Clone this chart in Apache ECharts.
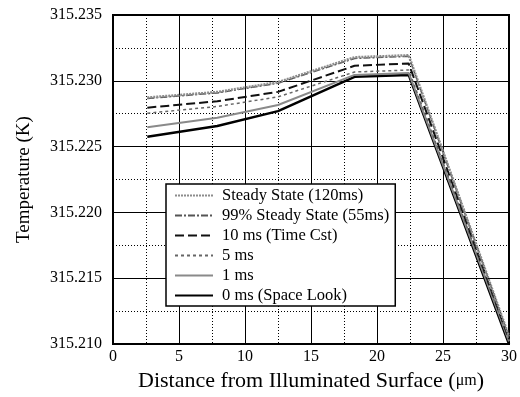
<!DOCTYPE html>
<html><head><meta charset="utf-8">
<script src="https://cdn.jsdelivr.net/npm/echarts@6/dist/echarts.min.js"></script>
<style>html,body{margin:0;padding:0;background:#fff}#c{width:520px;height:397px}</style>
</head><body><div id="c"></div>
<script>
const xs = [2.6, 7.9, 12.5, 18.3, 22.4, 30];
const seriesNames = ['Steady State (120ms)', '99% Steady State (55ms)', '10 ms (Time Cst)', '5 ms', '1 ms', '0 ms (Space Look)'];
const steady = [315.22873, 315.22915, 315.22990, 315.23179, 315.23194, 315.21060];
const steady99 = [315.22866, 315.22908, 315.22982, 315.23170, 315.23186, 315.21055];
const ms10 = [315.22796, 315.22845, 315.22916, 315.23114, 315.23132, 315.21040];
const ms5 = [315.22754, 315.22805, 315.22878, 315.23067, 315.23082, 315.21030];
const ms1 = [315.22647, 315.22720, 315.22816, 315.23045, 315.23060, 315.21020];
const ms0 = [315.22575, 315.22657, 315.22770, 315.23030, 315.23045, 315.21000];
const xTicks = [0, 5, 10, 15, 20, 25, 30];
const yTicks = ['315.210', '315.215', '315.220', '315.225', '315.230', '315.235'];

const font = 'Liberation Serif';
const styles = [
  {color: '#8c8c8c', width: 2.5, type: [2, 1]},
  {color: '#555', width: 1.5, type: [7, 2, 2, 2]},
  {color: '#111', width: 2, type: [9, 4]},
  {color: '#666', width: 1.5, type: [3, 3]},
  {color: '#8a8a8a', width: 2, type: 'solid'},
  {color: '#000', width: 2.5, type: 'solid'}
];
const datasets = [steady, steady99, ms10, ms5, ms1, ms0];
const series = datasets.map((d, i) => ({
  name: seriesNames[i], type: 'line', symbol: 'none', silent: true,
  data: xs.map((x, j) => [x, d[j]]),
  lineStyle: styles[i], itemStyle: {color: styles[i].color}, z: 10 - i
}));

const chart = echarts.init(document.getElementById('c'), null, {renderer: 'canvas'});
chart.setOption({
  animation: false,
  backgroundColor: '#fff',
  grid: {left: 113, right: 5, top: 15, bottom: 47, show: true, borderColor: '#000', borderWidth: 2, backgroundColor: 'transparent'},
  legend: {
    orient: 'vertical', left: 166, top: 184, itemWidth: 38, itemHeight: 12, itemGap: 3,
    backgroundColor: '#fff', borderColor: '#000', borderWidth: 1.5, padding: [3, 6, 2, 8],
    itemStyle: {opacity: 0},
    textStyle: {fontFamily: font, fontSize: 16.5, color: '#000', padding: [0, 0, 0, 4]},
    data: seriesNames, selectedMode: false
  },
  xAxis: {
    type: 'value', min: xTicks[0], max: xTicks[xTicks.length - 1], interval: 5,
    axisLine: {show: true, lineStyle: {color: '#000', width: 2}},
    axisTick: {show: false},
    axisLabel: {color: '#000', fontFamily: font, fontSize: 16, margin: 5},
    splitLine: {show: true, lineStyle: {color: '#000', width: 1}},
    minorTick: {show: false, splitNumber: 2},
    minorSplitLine: {show: true, lineStyle: {color: '#000', width: 1, type: [1, 2]}},
    name: '{a|Distance from Illuminated Surface (}{b|μm}{a|)}',
    nameLocation: 'middle', nameGap: 24,
    nameTextStyle: {rich: {a: {fontFamily: font, fontSize: 22, color: '#000'}, b: {fontFamily: font, fontSize: 16, color: '#000'}}}
  },
  yAxis: {
    type: 'value', min: 315.210, max: 315.235, interval: 0.005,
    axisLine: {show: true, lineStyle: {color: '#000', width: 2}},
    axisTick: {show: false},
    axisLabel: {color: '#000', fontFamily: font, fontSize: 16, margin: 11,
      formatter: v => yTicks[Math.round((v - 315.210) / 0.005)] || v.toFixed(3)},
    splitLine: {show: true, lineStyle: {color: '#000', width: 1}},
    minorTick: {show: false, splitNumber: 2},
    minorSplitLine: {show: true, lineStyle: {color: '#000', width: 1, type: [1, 2]}},
    name: 'Temperature (K)', nameLocation: 'middle', nameGap: 79,
    nameTextStyle: {fontFamily: font, fontSize: 19, color: '#000'}
  },
  series: series
});
</script></body></html>
